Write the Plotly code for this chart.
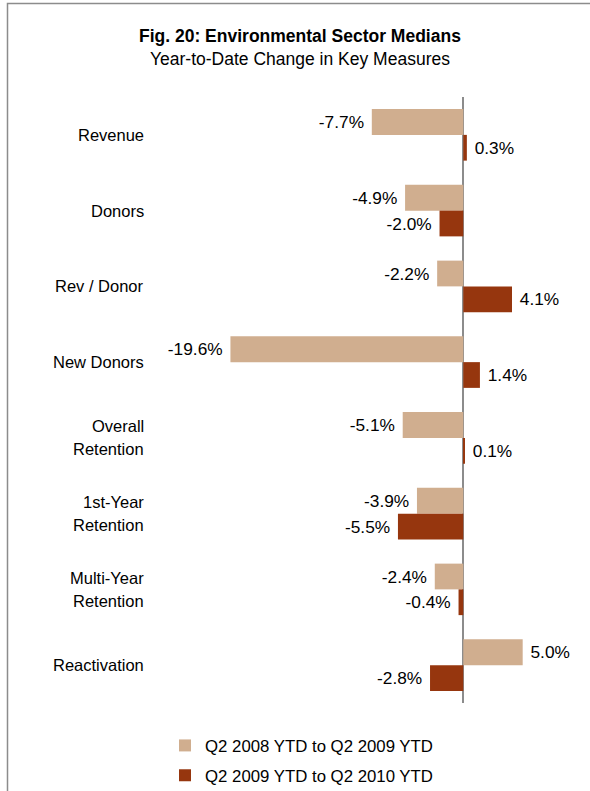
import plotly.graph_objects as go

# Key measures, top to bottom
categories = ["Revenue", "Donors", "Rev / Donor", "New Donors",
              "Overall<br>Retention", "1st-Year<br>Retention",
              "Multi-Year<br>Retention", "Reactivation"]
series_names = ["Q2 2008 YTD to Q2 2009 YTD", "Q2 2009 YTD to Q2 2010 YTD"]
change_2008_2009 = [-7.7, -4.9, -2.2, -19.6, -5.1, -3.9, -2.4, 5.0]
change_2009_2010 = [0.3, -2.0, 4.1, 1.4, 0.1, -5.5, -0.4, -2.8]

LIGHT = "#D0AE8F"
DARK = "#96360E"
FONT = "Liberation Sans, Arial, sans-serif"
NBSP = "\u00a0"

W, H = 590, 791
ML, MR, MT, MB = 150, 30, 97, 88
pw, ph = W - ML - MR, H - MT - MB


def py(pixel_y):
    """Paper y coordinate for a pixel row measured from the top."""
    return (H - MB - pixel_y) / ph


def px(pixel_x):
    return (pixel_x - ML) / pw


def value_labels(vals):
    # pad the label on the side facing the bar
    return [(f"{v:.1f}%" + NBSP) if v < 0 else (NBSP + f"{v:.1f}%") for v in vals]


fig = go.Figure()
for name, vals, col in [(series_names[0], change_2008_2009, LIGHT),
                        (series_names[1], change_2009_2010, DARK)]:
    fig.add_trace(go.Bar(
        y=categories, x=vals, orientation="h", name=name, legendgroup=name,
        marker=dict(color=col, line=dict(width=0)),
        text=value_labels(vals), texttemplate="%{text}", textposition="outside",
        textfont=dict(family=FONT, size=17.3, color="#000"),
        cliponaxis=False,
    ))

# category labels: right-aligned block, each line centred within it
LINE_GAP = 23
for cat in categories:
    lines = cat.split("<br>")
    for i, line in enumerate(lines):
        shift = (len(lines) - 1) / 2 * LINE_GAP - i * LINE_GAP
        fig.add_annotation(
            x=0, xref="paper", xshift=-4, y=cat, yref="y", yshift=shift,
            text=line, showarrow=False, xanchor="right", yanchor="middle",
            font=dict(family=FONT, size=16.5, color="#000"),
        )

# title and subtitle
fig.add_annotation(x=px(300), y=py(36), xref="paper", yref="paper",
                   text="<b>Fig. 20: Environmental Sector Medians</b>",
                   showarrow=False, xanchor="center", yanchor="middle",
                   font=dict(family=FONT, size=17.5, color="#000"))
fig.add_annotation(x=px(300), y=py(59), xref="paper", yref="paper",
                   text="Year-to-Date Change in Key Measures",
                   showarrow=False, xanchor="center", yanchor="middle",
                   font=dict(family=FONT, size=17.5, color="#000"))

# outer frame (right and bottom edges fall outside the page)
fig.add_shape(type="rect", xref="paper", yref="paper",
              x0=px(7.5), x1=px(W + 40), y0=py(H + 40), y1=py(3.5),
              line=dict(color="#8c8c8c", width=1.5), layer="above")

fig.update_layout(
    width=W, height=H,
    margin=dict(l=ML, r=MR, t=MT, b=MB, autoexpand=False),
    paper_bgcolor="white", plot_bgcolor="white",
    barmode="group", bargap=0.32, bargroupgap=0,
    font=dict(family=FONT, size=15, color="#000"),
    xaxis=dict(range=[-26.37, 8.14], showgrid=False, showticklabels=False,
               zeroline=True, zerolinecolor="#8c8c8c", zerolinewidth=1.5,
               showline=False, ticks=""),
    yaxis=dict(autorange="reversed", showticklabels=False, showgrid=False,
               showline=False, ticks=""),
    legend=dict(x=px(165), xanchor="left", y=py(728), yanchor="top",
                orientation="v", traceorder="grouped",
                font=dict(family=FONT, size=16.8, color="#000"),
                itemwidth=30, tracegroupgap=5),
    showlegend=True,
)

fig.write_html("out.html")
